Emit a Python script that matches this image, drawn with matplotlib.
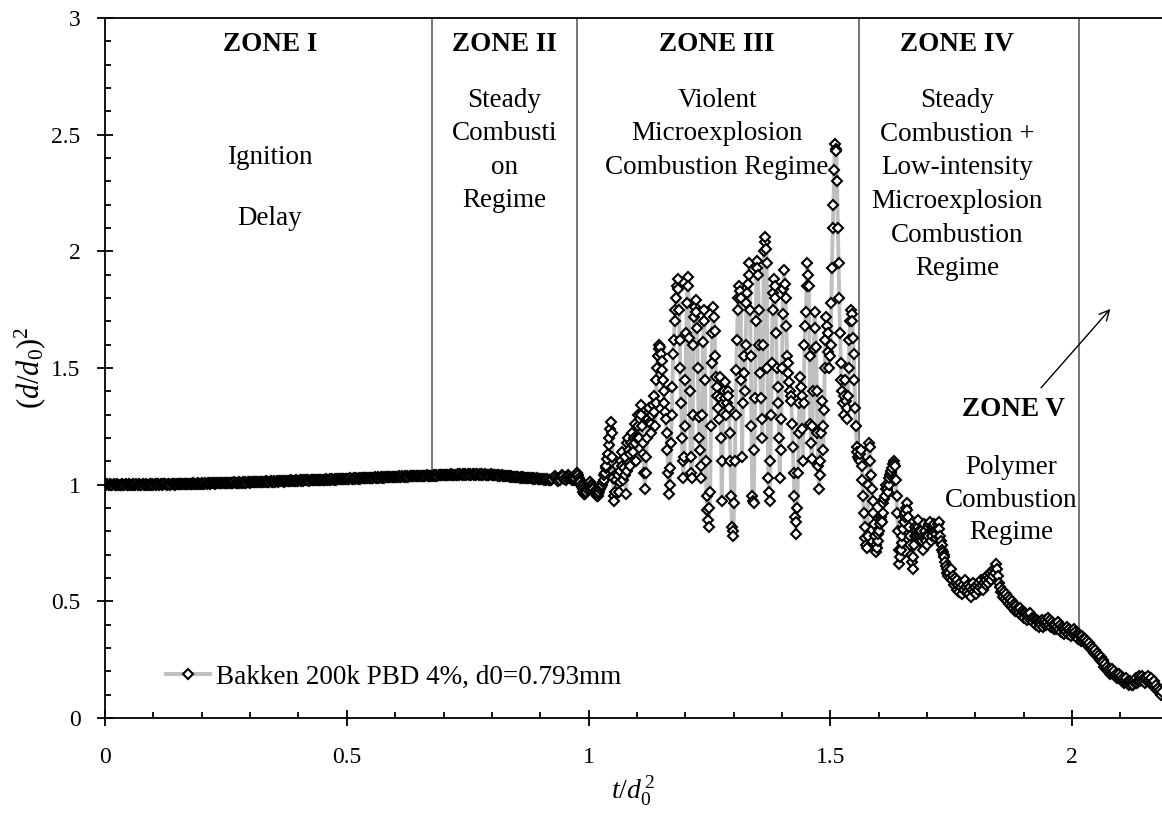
import numpy as np
import matplotlib
matplotlib.use("Agg")
import matplotlib.pyplot as plt
from matplotlib.ticker import MultipleLocator

plt.rcParams['font.family'] = ['Liberation Serif', 'DejaVu Serif']
plt.rcParams['mathtext.fontset'] = 'custom'
plt.rcParams['mathtext.rm'] = 'Liberation Serif'
plt.rcParams['mathtext.it'] = 'Liberation Serif:italic'

# ---------------- data ----------------
# segment A: ignition delay / steady part, sampled every 0.0025
tA_start, tA_step = 0.0, 0.0025
yA = [
 1.000,0.998,1.001,0.999,1.002,1.000,0.997,1.001,0.999,1.000,
 1.002,0.999,1.000,0.998,1.001,1.000,0.999,1.002,1.000,0.998,
 1.001,0.999,1.000,1.002,0.998,1.000,1.001,0.999,1.002,1.000,
 0.999,1.001,1.000,0.998,1.002,1.000,0.999,1.001,1.000,1.002,
 1.000,1.002,0.999,1.001,1.003,1.000,1.002,0.999,1.001,1.003,
 1.001,1.000,1.002,1.003,1.000,1.002,1.001,1.003,1.000,1.002,
 1.003,1.001,1.002,1.004,1.001,1.003,1.002,1.004,1.002,1.003,
 1.004,1.002,1.003,1.005,1.003,1.004,1.002,1.005,1.003,1.004,
 1.005,1.003,1.004,1.006,1.004,1.005,1.007,1.004,1.006,1.005,
 1.006,1.004,1.007,1.005,1.006,1.008,1.005,1.007,1.006,1.008,
 1.007,1.006,1.008,1.007,1.009,1.006,1.008,1.010,1.007,1.009,
 1.008,1.010,1.008,1.009,1.011,1.009,1.010,1.008,1.011,1.010,
 1.009,1.011,1.010,1.012,1.010,1.011,1.013,1.010,1.012,1.011,
 1.013,1.011,1.012,1.014,1.012,1.013,1.011,1.014,1.013,1.012,
 1.014,1.013,1.015,1.013,1.014,1.016,1.014,1.015,1.013,1.016,
 1.015,1.017,1.015,1.016,1.018,1.016,1.017,1.015,1.018,1.017,
 1.016,1.018,1.017,1.019,1.017,1.018,1.020,1.018,1.019,1.017,
 1.019,1.018,1.020,1.019,1.021,1.019,1.020,1.022,1.020,1.021,
 1.020,1.022,1.021,1.023,1.021,1.022,1.024,1.022,1.023,1.021,
 1.023,1.022,1.024,1.023,1.025,1.023,1.024,1.026,1.024,1.025,
 1.024,1.026,1.025,1.027,1.025,1.026,1.028,1.026,1.027,1.025,
 1.027,1.026,1.028,1.027,1.029,1.027,1.028,1.030,1.028,1.029,
 1.028,1.030,1.029,1.031,1.029,1.030,1.032,1.030,1.031,1.029,
 1.031,1.030,1.032,1.031,1.033,1.031,1.032,1.034,1.032,1.033,
 1.032,1.034,1.033,1.035,1.033,1.034,1.036,1.034,1.035,1.033,
 1.035,1.034,1.036,1.035,1.037,1.035,1.036,1.038,1.036,1.037,
 1.036,1.038,1.037,1.039,1.037,1.038,1.040,1.038,1.039,1.037,
 1.039,1.038,1.040,1.039,1.041,1.039,1.040,1.042,1.040,1.041,
 1.040,1.042,1.041,1.043,1.041,1.042,1.044,1.042,1.043,1.041,
 1.043,1.042,1.044,1.043,1.045,1.043,1.044,1.042,1.044,1.043,
 1.045,1.043,1.044,1.042,1.044,1.043,1.045,1.043,1.044,1.042,
 1.044,1.043,1.045,1.042,1.044,1.043,1.041,1.043,1.042,1.044,
 1.042,1.041,1.043,1.040,1.042,1.039,1.041,1.038,1.040,1.037,
 1.038,1.036,1.037,1.035,1.036,1.034,1.035,1.033,1.034,1.032,
 1.033,1.031,1.032,1.030,1.031,1.029,1.031,1.028,1.030,1.029,
 1.028,1.030,1.027,1.029,1.026,1.028,1.025,1.027,1.026,1.024,
 1.026,1.023,1.025,1.022,1.024,1.021,1.023,1.020,1.022,1.019,
 1.024,1.033,1.038,1.028,1.018,1.014,1.022,1.031,1.040,1.036,
 1.025,1.018,1.028,1.042,1.035,1.027,
]

# segment B: violent microexplosions (zone III) and zone IV strokes, every 0.0015
tB_start, tB_step = 0.965, 0.0015
yB = [
 1.02,1.03,1.03,1.02,1.02,1.03,1.04,1.05,1.05,1.04,1.03,1.02,1.01,1.00,0.99,0.98,0.97,0.96,0.96,0.97,
 0.97,0.98,0.99,1.00,1.00,1.01,1.01,1.00,1.00,0.99,0.98,0.97,0.97,0.96,0.96,0.95,0.95,0.96,0.97,0.98,
 0.99,1.00,1.00,1.01,1.02,1.04,1.05,1.07,1.08,1.11,1.13,1.17,1.20,1.24,1.27,1.22,1.12,1.03,0.95,0.93,
 0.97,1.02,1.05,1.08,1.04,0.97,1.01,1.06,1.10,1.14,1.08,1.02,1.07,1.12,1.04,0.96,1.06,1.18,1.20,1.15,
 1.08,1.13,1.18,1.22,1.17,1.14,1.20,1.26,1.18,1.10,1.20,1.30,1.25,1.20,1.28,1.34,1.30,1.25,1.18,1.13,
 1.05,0.98,1.05,1.12,1.20,1.28,1.31,1.33,1.27,1.22,1.26,1.30,1.34,1.38,1.31,1.25,1.35,1.45,1.50,1.55,
 1.58,1.60,1.59,1.56,1.53,1.49,1.45,1.40,1.35,1.31,1.28,1.22,1.15,1.05,0.96,1.00,1.07,1.18,1.30,1.42,
 1.56,1.62,1.70,1.75,1.80,1.85,1.88,1.84,1.75,1.62,1.50,1.35,1.20,1.10,1.03,1.12,1.25,1.45,1.65,1.78,
 1.89,1.85,1.63,1.40,1.12,1.05,1.03,1.30,1.60,1.72,1.76,1.79,1.74,1.67,1.50,1.29,1.20,1.15,1.08,1.03,
 1.30,1.61,1.70,1.75,1.45,1.10,0.95,0.89,0.85,0.82,0.90,0.97,1.25,1.52,1.65,1.76,1.72,1.66,1.55,1.46,
 1.42,1.38,1.33,1.28,1.37,1.46,1.20,0.93,1.10,1.35,1.40,1.44,1.37,1.30,1.35,1.40,1.38,1.33,1.22,1.10,
 0.95,0.82,0.80,0.78,0.92,1.10,1.30,1.49,1.62,1.75,1.80,1.85,1.83,1.80,1.45,1.12,1.35,1.55,1.48,1.40,
 1.60,1.78,1.82,1.86,1.90,1.95,1.75,1.55,1.25,0.95,0.93,0.92,1.15,1.37,1.70,1.96,1.93,1.90,1.75,1.60,
 1.48,1.37,1.28,1.20,1.60,2.00,2.04,2.06,2.01,1.95,1.50,1.03,0.97,0.93,1.10,1.30,1.52,1.75,1.82,1.88,
 1.85,1.80,1.65,1.50,1.42,1.35,1.20,1.03,1.15,1.28,1.50,1.73,1.84,1.92,1.86,1.80,1.68,1.55,1.52,1.48,
 1.44,1.40,1.38,1.36,1.26,1.16,1.05,0.95,0.86,0.79,0.84,0.90,1.05,1.22,1.35,1.46,1.42,1.38,1.24,1.10,
 1.35,1.60,1.68,1.74,1.85,1.95,1.90,1.85,1.55,1.26,1.18,1.11,1.25,1.40,1.58,1.74,1.67,1.59,1.40,1.22,
 1.08,0.98,1.04,1.10,1.22,1.36,1.25,1.15,1.32,1.50,1.62,1.72,1.68,1.65,1.57,1.50,1.55,1.60,1.78,1.93,
 2.10,2.20,2.35,2.46,2.44,2.43,2.30,2.10,1.95,1.80,1.65,1.52,1.45,1.40,1.35,1.30,1.38,1.45,1.36,1.28,
 1.33,1.38,1.50,1.62,1.70,1.75,1.73,1.70,1.63,1.56,1.45,1.33,1.25,1.16,1.14,1.12,1.11,1.10,1.13,1.15,
 1.08,1.02,0.95,0.88,0.82,0.77,0.74,0.73,0.78,1.00,1.18,1.16,1.10,1.04,0.98,0.93,0.88,0.83,0.78,0.74,
 0.71,0.73,0.76,0.79,0.80,0.83,0.86,0.85,0.84,0.88,0.92,0.94,0.95,0.98,1.00,0.98,0.97,1.00,1.03,1.04,
 1.05,1.06,1.07,1.09,1.10,1.09,1.08,1.02,0.95,0.88,0.80,0.72,0.66,0.69,0.72,0.75,0.78,0.81,0.84,0.86,
 0.88,0.90,0.92,0.89,0.86,0.82,0.78,0.74,0.70,0.67,0.64,0.69,0.74,0.78,0.82,0.80,0.78,0.82,0.85,0.80,
 0.76,0.78,0.80,0.76,0.72,0.78,0.83,0.80,0.78,0.76,0.74,0.78,0.82,0.83,0.84,0.80,0.76,0.78,0.80,0.82,
 0.83,0.80,0.77,0.79,0.81,0.83,0.84,0.81,0.78,0.76,0.74,0.72,0.71,0.70,0.69,0.67,0.65,0.64,0.62,0.61,
]

# segment C: polymer combustion decline, sampled every 0.002
tC_start, tC_step = 1.745, 0.002
yC = [
 0.62,0.60,0.64,0.59,0.61,0.57,0.60,0.58,0.55,0.59,
 0.57,0.54,0.58,0.56,0.53,0.57,0.55,0.59,0.56,0.54,
 0.57,0.53,0.56,0.52,0.55,0.58,0.54,0.56,0.53,0.57,
 0.55,0.58,0.56,0.59,0.57,0.55,0.58,0.60,0.57,0.59,
 0.61,0.58,0.60,0.62,0.59,0.63,0.61,0.64,0.62,0.66,
 0.64,0.61,0.58,0.56,0.54,0.55,0.52,0.54,0.51,0.53,
 0.50,0.52,0.49,0.51,0.48,0.50,0.47,0.49,0.48,0.46,
 0.48,0.46,0.47,0.45,0.47,0.44,0.46,0.45,0.43,0.45,
 0.44,0.42,0.44,0.43,0.45,0.42,0.43,0.41,0.43,0.42,
 0.40,0.42,0.41,0.39,0.41,0.40,0.42,0.39,0.41,0.40,
 0.42,0.40,0.41,0.43,0.40,0.42,0.39,0.41,0.40,0.38,
 0.40,0.38,0.39,0.41,0.38,0.40,0.37,0.39,0.38,0.36,
 0.38,0.37,0.39,0.36,0.38,0.37,0.35,0.37,0.36,0.38,
 0.36,0.37,0.35,0.36,0.34,0.36,0.35,0.33,0.35,0.34,
 0.33,0.34,0.32,0.33,0.31,0.32,0.30,0.31,0.29,0.30,
 0.28,0.29,0.27,0.28,0.26,0.27,0.25,0.26,0.24,0.25,
 0.24,0.22,0.23,0.21,0.22,0.20,0.21,0.19,0.20,0.21,
 0.19,0.20,0.18,0.19,0.17,0.18,0.19,0.17,0.18,0.16,
 0.17,0.15,0.16,0.17,0.15,0.16,0.14,0.16,0.15,0.14,
 0.15,0.14,0.16,0.15,0.17,0.15,0.16,0.18,0.16,0.17,
 0.18,0.16,0.17,0.15,0.17,0.16,0.18,0.16,0.15,0.17,
 0.15,0.14,0.16,0.13,0.14,0.12,0.13,0.11,0.12,0.10,
 0.11,
]

series_label = "Bakken 200k PBD 4%, d0=0.793mm"
zone_bounds = [0.676, 0.977, 1.56, 2.014]

tA = tA_start + tA_step * np.arange(len(yA))
tB = tB_start + tB_step * np.arange(len(yB))
tC = tC_start + tC_step * np.arange(len(yC))
t = np.concatenate([tA, tB, tC])
y = np.concatenate([np.array(yA), np.array(yB), np.array(yC)])

# ---------------- figure ----------------
fig = plt.figure(figsize=(11.62, 8.15), dpi=100)
ax = fig.add_axes([0.0904, 0.119, 0.9096, 0.859])

ax.plot(t, y, color='#bfbfbf', lw=2.8, marker='D', ms=4.8,
        mfc='white', mec='black', mew=1.5, label=series_label, zorder=3)

for xb in zone_bounds:
    yb = np.interp(xb, t, y)
    ax.plot([xb, xb], [yb, 3.0], color='#505050', lw=1.1, zorder=2)

ax.set_xlim(0, 2.186)
ax.set_ylim(0, 3)
ax.xaxis.set_major_locator(MultipleLocator(0.5))
ax.xaxis.set_minor_locator(MultipleLocator(0.1))
ax.yaxis.set_major_locator(MultipleLocator(0.5))
ax.yaxis.set_minor_locator(MultipleLocator(0.1))
ax.xaxis.set_major_formatter(plt.FuncFormatter(lambda v, p: f"{v:g}"))
ax.yaxis.set_major_formatter(plt.FuncFormatter(lambda v, p: f"{v:g}"))
ax.tick_params(which='major', direction='inout', length=11.5, width=1.3, labelsize=17)
ax.tick_params(which='minor', direction='in', length=4.5, width=1.3)
ax.tick_params(axis='x', which='major', pad=15)
ax.tick_params(axis='y', which='major', pad=12)
ax.spines['right'].set_visible(False)
for s in ['left', 'bottom', 'top']:
    ax.spines[s].set_linewidth(1.3)

ax.set_xlabel(r'$t/d_0^{\,2}$', fontsize=20, labelpad=5)
ax.set_ylabel(r'$(d/d_0)^2$', fontsize=22, labelpad=2)

fs = 19.5
# zone titles
ax.text(0.341, 2.885, 'ZONE I', ha='center', va='center', fontsize=fs, fontweight='bold')
ax.text(0.826, 2.885, 'ZONE II', ha='center', va='center', fontsize=fs, fontweight='bold')
ax.text(1.266, 2.885, 'ZONE III', ha='center', va='center', fontsize=fs, fontweight='bold')
ax.text(1.762, 2.885, 'ZONE IV', ha='center', va='center', fontsize=fs, fontweight='bold')
ax.text(1.878, 1.32, 'ZONE V', ha='center', va='center', fontsize=fs, fontweight='bold')

def block(x, y0, lines, dy):
    for i, s in enumerate(lines):
        ax.text(x, y0 - i * dy, s, ha='center', va='center', fontsize=fs)

block(0.341, 2.40, ['Ignition'], 0.26)
ax.text(0.341, 2.14, 'Delay', ha='center', va='center', fontsize=fs)
block(0.826, 2.645, ['Steady', 'Combusti', 'on', 'Regime'], 0.142)
block(1.266, 2.645, ['Violent', 'Microexplosion', 'Combustion Regime'], 0.142)
block(1.762, 2.645, ['Steady', 'Combustion +', 'Low-intensity', 'Microexplosion',
                     'Combustion', 'Regime'], 0.144)
block(1.874, 1.075, ['Polymer', 'Combustion', 'Regime'], 0.141)

ax.annotate('', xy=(2.083, 1.762), xytext=(1.932, 1.406),
            arrowprops=dict(arrowstyle='->', color='black', lw=1.0,
                            mutation_scale=18))

leg = ax.legend(loc='lower left', bbox_to_anchor=(0.040, 0.013), frameon=False,
                fontsize=19.5, handlelength=1.6, handletextpad=0.25, borderpad=0.2)

fig.savefig('out.png', dpi=100)
